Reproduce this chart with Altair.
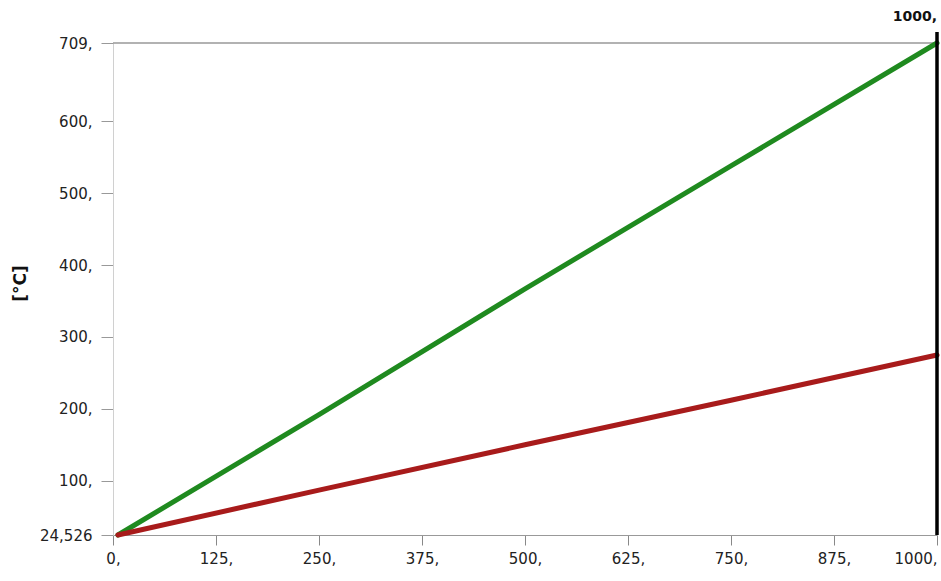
import altair as alt
import pandas as pd

# Data
time_vals = [6, 250, 500, 750, 1000]
green_vals = [24.526, 192, 367, 538, 709]
red_vals = [24.526, 87, 150, 212, 275]
x_ticks = [0, 125, 250, 375, 500, 625, 750, 875, 1000]
y_ticks = [24.526, 100, 200, 300, 400, 500, 600, 709]
y_min, y_max = 24.526, 709
end_time = 1000

rows = []
for t, g in zip(time_vals, green_vals):
    rows.append({"t": t, "v": g, "s": "green"})
for t, r in zip(time_vals, red_vals):
    rows.append({"t": t, "v": r, "s": "red"})
df = pd.DataFrame(rows)

FONT = "DejaVu Sans"

x_enc = alt.X(
    "t:Q",
    scale=alt.Scale(domain=[0, end_time], nice=False, zero=False),
    axis=alt.Axis(
        values=x_ticks,
        labelExpr="datum.value + ','",
        labelAlign=alt.expr("datum.value == 1000 ? 'right' : 'center'"),
        grid=False,
        title=None,
        tickSize=10,
        tickColor="#888",
        domainColor="#999",
        labelPadding=6,
        labelFont=FONT,
        labelFontSize=15,
        labelColor="#222",
    ),
)
y_enc = alt.Y(
    "v:Q",
    scale=alt.Scale(domain=[y_min, y_max], nice=False, zero=False),
    axis=alt.Axis(
        values=y_ticks,
        labelExpr="datum.value == 24.526 ? '24,526' : format(datum.value, 'd') + ','",
        grid=False,
        title="[°C]",
        titleFont=FONT,
        titleFontSize=17,
        titleFontWeight="bold",
        titleColor="#111",
        titleX=-93,
        titleY=240,
        titleAngle=270,
        titleAlign="center",
        titleBaseline="middle",
        tickSize=12,
        tickColor="#999",
        domainColor="#d0d0d0",
        labelPadding=9,
        labelFont=FONT,
        labelFontSize=15,
        labelColor="#222",
    ),
)

lines = alt.Chart(df).mark_line(strokeWidth=5, strokeCap="round").encode(
    x=x_enc,
    y=y_enc,
    color=alt.Color(
        "s:N",
        scale=alt.Scale(domain=["green", "red"], range=["#1f8a1f", "#a81b1b"]),
        legend=None,
    ),
)

top_df = pd.DataFrame({"a": [0], "b": [end_time], "y": [y_max]})
top_rule = alt.Chart(top_df).mark_rule(color="#999", strokeWidth=1.5).encode(
    x="a:Q", x2="b:Q", y="y:Q"
)

end_df = pd.DataFrame({"t": [end_time], "lab": ["1000,"]})
end_rule = alt.Chart(end_df).mark_rule(color="#000", strokeWidth=3.5).encode(
    x="t:Q", y=alt.value(-11), y2=alt.value(492)
)
end_text = alt.Chart(end_df).mark_text(
    align="right", baseline="alphabetic", font=FONT, fontSize=14,
    fontWeight="bold", color="#111", dx=0
).encode(x="t:Q", y=alt.value(-22), text="lab:N")

chart = (
    alt.layer(top_rule, lines, end_rule, end_text)
    .properties(
        width=824,
        height=492,
        padding={"left": 113, "top": 43, "right": 4, "bottom": 46},
        autosize="none",
        background="white",
    )
    .configure_view(stroke=None)
)

chart.save("out.html", embed_options={"renderer": "svg", "actions": False})
